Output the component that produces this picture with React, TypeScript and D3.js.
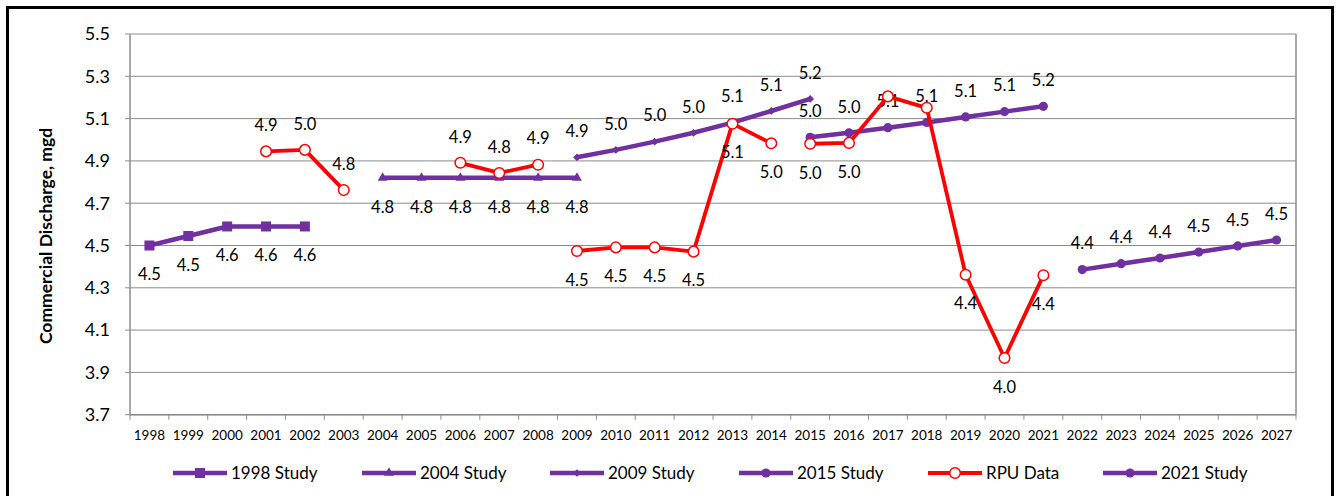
import React from 'react';
import * as d3 from 'd3';

// ---------- data ----------
const years = ['1998','1999','2000','2001','2002','2003','2004','2005','2006','2007','2008','2009','2010','2011','2012','2013','2014','2015','2016','2017','2018','2019','2020','2021','2022','2023','2024','2025','2026','2027'];
const yTicks = [3.7, 3.9, 4.1, 4.3, 4.5, 4.7, 4.9, 5.1, 5.3, 5.5];

const study1998Years = ['1998','1999','2000','2001','2002'];
const study1998 = [4.50, 4.545, 4.59, 4.59, 4.59];

const study2004Years = ['2004','2005','2006','2007','2008','2009'];
const study2004 = [4.82, 4.82, 4.82, 4.82, 4.82, 4.82];

const study2009Years = ['2009','2010','2011','2012','2013','2014','2015'];
const study2009 = [4.917, 4.952, 4.991, 5.033, 5.081, 5.136, 5.193];

const study2015Years = ['2015','2016','2017','2018','2019','2020','2021'];
const study2015 = [5.012, 5.033, 5.057, 5.082, 5.108, 5.133, 5.158];

const rpuAYears = ['2001','2002','2003'];
const rpuA = [4.945, 4.952, 4.762];
const rpuBYears = ['2006','2007','2008'];
const rpuB = [4.891, 4.843, 4.882];
const rpuCYears = ['2009','2010','2011','2012','2013','2014'];
const rpuC = [4.474, 4.491, 4.491, 4.471, 5.076, 4.983];
const rpuDYears = ['2015','2016','2017','2018','2019','2020','2021'];
const rpuD = [4.981, 4.985, 5.205, 5.151, 4.362, 3.968, 4.359];
const rpuDLabelShown = [true, true, false, false, true, true, true];

const study2021Years = ['2022','2023','2024','2025','2026','2027'];
const study2021 = [4.386, 4.414, 4.441, 4.469, 4.498, 4.526];

const legendNames = ['1998 Study', '2004 Study', '2009 Study', '2015 Study', 'RPU Data', '2021 Study'];

// ---------- layout ----------
const W = 1336, H = 496;
const plot = { left: 130, right: 1296, top: 34, bottom: 414.7 };
const PURPLE = '#7030A0';
const RED = '#FF0000';
const GRID = '#8C8C8C';
const FONT = 'Lato, "Open Sans", sans-serif';

const x = d3.scaleBand<string>().domain(years).range([plot.left, plot.right]).padding(0);
const cx = (yr: string) => (x(yr) as number) + x.bandwidth() / 2;
const y = d3.scaleLinear().domain([3.7, 5.5]).range([plot.bottom, plot.top]);
const fmt = d3.format('.1f');

type Marker = 'square' | 'triangle' | 'diamond' | 'circle' | 'open';

type Series = {
  name: string;
  yrs: string[];
  vals: number[];
  color: string;
  marker: Marker;
  label: 'above' | 'below';
  shown?: boolean[];
};

const seriesList: Series[] = [
  { name: '1998 Study', yrs: study1998Years, vals: study1998, color: PURPLE, marker: 'square', label: 'below' },
  { name: '2004 Study', yrs: study2004Years, vals: study2004, color: PURPLE, marker: 'triangle', label: 'below' },
  { name: '2009 Study', yrs: study2009Years, vals: study2009, color: PURPLE, marker: 'diamond', label: 'above' },
  { name: '2015 Study', yrs: study2015Years, vals: study2015, color: PURPLE, marker: 'circle', label: 'above' },
  { name: 'RPU Data', yrs: rpuAYears, vals: rpuA, color: RED, marker: 'open', label: 'above' },
  { name: 'RPU Data', yrs: rpuBYears, vals: rpuB, color: RED, marker: 'open', label: 'above' },
  { name: 'RPU Data', yrs: rpuCYears, vals: rpuC, color: RED, marker: 'open', label: 'below' },
  { name: 'RPU Data', yrs: rpuDYears, vals: rpuD, color: RED, marker: 'open', label: 'below', shown: rpuDLabelShown },
  { name: '2021 Study', yrs: study2021Years, vals: study2021, color: PURPLE, marker: 'circle', label: 'above' },
];

const legendMarkers: Marker[] = ['square', 'triangle', 'diamond', 'circle', 'open', 'circle'];
const legendColors = [PURPLE, PURPLE, PURPLE, PURPLE, RED, PURPLE];
const legendStarts = [173, 362, 550, 739, 928, 1103];

const symSquare = d3.symbol().type(d3.symbolSquare).size(100)()!;
const symTriangle = d3.symbol().type(d3.symbolTriangle).size(42)()!;
const symDiamond = d3.symbol().type(d3.symbolSquare).size(30)()!;
const symCircle = d3.symbol().type(d3.symbolCircle).size(66)()!;

function MarkerShape({ m, px, py, color }: { m: Marker; px: number; py: number; color: string }) {
  if (m === 'open') {
    return <circle cx={px} cy={py} r={5.3} fill="#fff" stroke={color} strokeWidth={1.5} />;
  }
  const d = m === 'square' ? symSquare : m === 'triangle' ? symTriangle : m === 'diamond' ? symDiamond : symCircle;
  const rot = m === 'diamond' ? ' rotate(45)' : '';
  return <path d={d} transform={`translate(${px},${py})${rot}`} fill={color} />;
}

const line = d3.line<[number, number]>().x(d => d[0]).y(d => d[1]);

export default function App() {
  return (
    <svg width={W} height={H} style={{ position: 'absolute', left: 0, top: 0, background: '#fff' }} fontFamily={FONT}>
      <rect x={0} y={0} width={W} height={H} fill="#fff" />
      {/* outer border */}
      <rect x={7.5} y={7.5} width={1325} height={520} fill="none" stroke="#000" strokeWidth={3} />

      {/* gridlines */}
      {yTicks.map(t => (
        <line key={t} x1={plot.left} x2={plot.right} y1={y(t)} y2={y(t)} stroke={GRID} strokeWidth={1} />
      ))}
      {/* plot border right */}
      <line x1={plot.right} x2={plot.right} y1={plot.top} y2={plot.bottom} stroke={GRID} strokeWidth={1.5} />
      {/* y axis */}
      <line x1={plot.left} x2={plot.left} y1={plot.top} y2={plot.bottom + 0.5} stroke={GRID} strokeWidth={1.5} />
      {yTicks.map(t => (
        <g key={'yt' + t}>
          <line x1={plot.left - 5} x2={plot.left} y1={y(t)} y2={y(t)} stroke={GRID} strokeWidth={1} />
          <text x={110} y={y(t)} dy="0.35em" textAnchor="end" fontSize={18} fill="#000">{fmt(t)}</text>
        </g>
      ))}
      {/* x axis */}
      <line x1={plot.left} x2={plot.right} y1={plot.bottom} y2={plot.bottom} stroke={GRID} strokeWidth={1.5} />
      {years.concat(['end']).map((yr, i) => {
        const xx = plot.left + i * x.bandwidth();
        return <line key={'xt' + i} x1={xx} x2={xx} y1={plot.bottom} y2={plot.bottom + 5} stroke={GRID} strokeWidth={1} />;
      })}
      {years.map(yr => (
        <text key={'xl' + yr} x={cx(yr)} y={440} textAnchor="middle" fontSize={13.5} fill="#000">{yr}</text>
      ))}

      {/* y axis title */}
      <text transform={`translate(52,236) rotate(-90)`} textAnchor="middle" fontSize={17.5} fontWeight="bold" fill="#000">
        Commercial Discharge, mgd
      </text>

      {/* series */}
      {seriesList.map((s, si) => {
        const pts: [number, number][] = s.yrs.map((yr, i) => [cx(yr), y(s.vals[i])]);
        return (
          <g key={'s' + si}>
            <path d={line(pts) || ''} fill="none" stroke={s.color} strokeWidth={s.color === RED ? 3.8 : 4.5} strokeLinejoin="round" />
            {pts.map((p, i) => (
              <MarkerShape key={i} m={s.marker} px={p[0]} py={p[1]} color={s.color} />
            ))}
            {pts.map((p, i) =>
              s.shown && !s.shown[i] ? null : (
                <text key={'l' + i} x={p[0]} y={p[1] + (s.label === 'above' ? -26 : 29)} dy="0.35em" textAnchor="middle" fontSize={16.5} fill="#000">
                  {fmt(s.vals[i])}
                </text>
              )
            )}
          </g>
        );
      })}

      {/* legend */}
      {legendNames.map((n, i) => {
        const x0 = legendStarts[i];
        const ly = 473;
        return (
          <g key={'lg' + i}>
            <line x1={x0} x2={x0 + 54} y1={ly} y2={ly} stroke={legendColors[i]} strokeWidth={legendColors[i] === RED ? 3.8 : 4.5} />
            <MarkerShape m={legendMarkers[i]} px={x0 + 27} py={ly} color={legendColors[i]} />
            <text x={x0 + 58} y={ly} dy="0.35em" fontSize={17} fill="#000">{n}</text>
          </g>
        );
      })}
    </svg>
  );
}
